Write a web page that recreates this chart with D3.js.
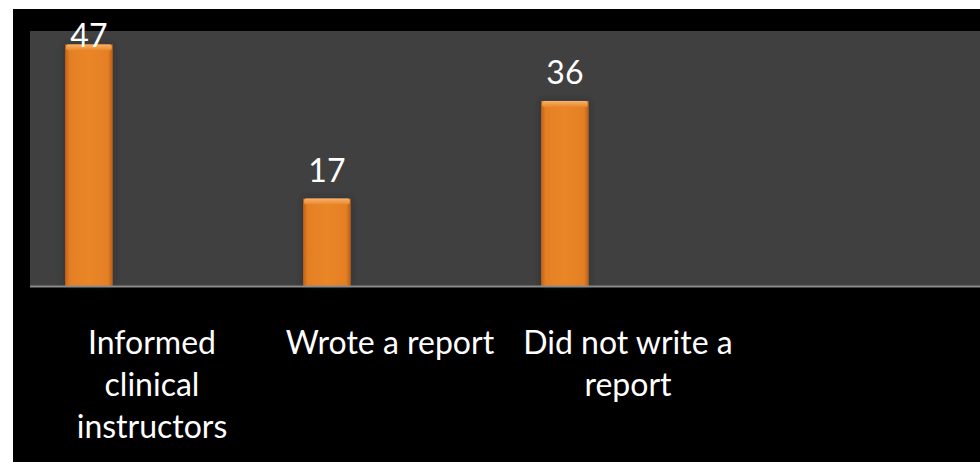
<!DOCTYPE html>
<html>
<head>
<meta charset="utf-8">
<script src="https://cdn.jsdelivr.net/npm/d3@7"></script>
<style>
  html, body { margin: 0; padding: 0; background: #ffffff; }
  svg { display: block; }
  text { font-family: Lato, "Open Sans", "Liberation Sans", sans-serif; }
</style>
</head>
<body>
<svg id="chart" width="980" height="462"></svg>
<script>
// Survey responses: what students did after the incident
const categories = ["Informed clinical instructors", "Wrote a report", "Did not write a report"];
const values = [47, 17, 36];
const yDomain = [0, 50];

const W = 980, H = 462;
const svg = d3.select("#chart");

// Slide backdrop
svg.append("rect").attr("x", 13).attr("y", 9).attr("width", W - 13).attr("height", H - 9).attr("fill", "#000000");

const plot = { left: 30, right: 980, top: 31, bottom: 286 };

// Plot area
svg.append("rect")
  .attr("x", plot.left).attr("y", plot.top)
  .attr("width", plot.right - plot.left).attr("height", plot.bottom - plot.top)
  .attr("fill", "#404040");

const x = d3.scaleBand().domain(categories).range([33, 33 + 238 * categories.length]).padding(0);
const y = d3.scaleLinear().domain(yDomain).range([plot.bottom, 29]);

const defs = svg.append("defs");
const side = defs.append("linearGradient").attr("id", "barSide").attr("x1", 0).attr("x2", 1).attr("y1", 0).attr("y2", 0);
side.append("stop").attr("offset", "0%").attr("stop-color", "#c2631a");
side.append("stop").attr("offset", "10%").attr("stop-color", "#e47f24");
side.append("stop").attr("offset", "50%").attr("stop-color", "#ea8628");
side.append("stop").attr("offset", "90%").attr("stop-color", "#e47f24");
side.append("stop").attr("offset", "100%").attr("stop-color", "#b85c18");

const bevel = defs.append("linearGradient").attr("id", "barTop").attr("x1", 0).attr("x2", 0).attr("y1", 0).attr("y2", 1);
bevel.append("stop").attr("offset", "0%").attr("stop-color", "#f6b36c");
bevel.append("stop").attr("offset", "100%").attr("stop-color", "#ea8628");

const shadow = defs.append("filter").attr("id", "barShadow").attr("x", "-40%").attr("y", "-10%").attr("width", "180%").attr("height", "120%");
shadow.append("feDropShadow").attr("dx", 0).attr("dy", 0).attr("stdDeviation", 3)
  .attr("flood-color", "#1c2a36").attr("flood-opacity", 0.7);

const bw = x.bandwidth() * 0.2;
const bx = d => x(d.cat) + x.bandwidth() * 0.135;
const data = categories.map((c, i) => ({ cat: c, v: values[i] }));

const bars = svg.append("g").selectAll("g").data(data).join("g");
bars.append("rect")
  .attr("x", bx).attr("y", d => y(d.v))
  .attr("width", bw).attr("height", d => y(0) - y(d.v))
  .attr("fill", "url(#barSide)")
  .attr("filter", "url(#barShadow)");
bars.append("rect")
  .attr("x", d => bx(d) + 1).attr("y", d => y(d.v))
  .attr("width", bw - 2).attr("height", 6)
  .attr("rx", 2)
  .attr("fill", "url(#barTop)");

// Baseline
svg.append("line")
  .attr("x1", plot.left).attr("x2", plot.right)
  .attr("y1", y(0) + 0.5).attr("y2", y(0) + 0.5)
  .attr("stroke", "#8a8a8a").attr("stroke-width", 2);

// Value labels above the bars (kept inside the plot top)
bars.append("text")
  .attr("x", d => bx(d) + bw / 2)
  .attr("y", d => Math.max(y(d.v) - 17, 47))
  .attr("text-anchor", "middle")
  .attr("fill", "#ffffff")
  .attr("font-size", 32)
  .text(d => d.v);

// Category labels, wrapped to the category width
const labelSize = 32, lineH = 42, maxW = 224;
const axis = svg.append("g");
categories.forEach(c => {
  const t = axis.append("text")
    .attr("x", x(c) + x.bandwidth() / 2)
    .attr("y", 354)
    .attr("text-anchor", "middle")
    .attr("fill", "#ffffff")
    .attr("font-size", labelSize);
  const words = c.split(" ");
  let line = [], lineNo = 0;
  let tspan = t.append("tspan").attr("x", x(c) + x.bandwidth() / 2).attr("dy", 0);
  words.forEach(w => {
    line.push(w);
    tspan.text(line.join(" "));
    if (tspan.node().getComputedTextLength() > maxW && line.length > 1) {
      line.pop();
      tspan.text(line.join(" "));
      line = [w];
      lineNo++;
      tspan = t.append("tspan").attr("x", x(c) + x.bandwidth() / 2).attr("dy", lineH).text(w);
    }
  });
});

// Slide margins
svg.append("rect").attr("x", 0).attr("y", 0).attr("width", 13).attr("height", H).attr("fill", "#ffffff");
svg.append("rect").attr("x", 0).attr("y", 0).attr("width", W).attr("height", 9).attr("fill", "#ffffff");
</script>
</body>
</html>
